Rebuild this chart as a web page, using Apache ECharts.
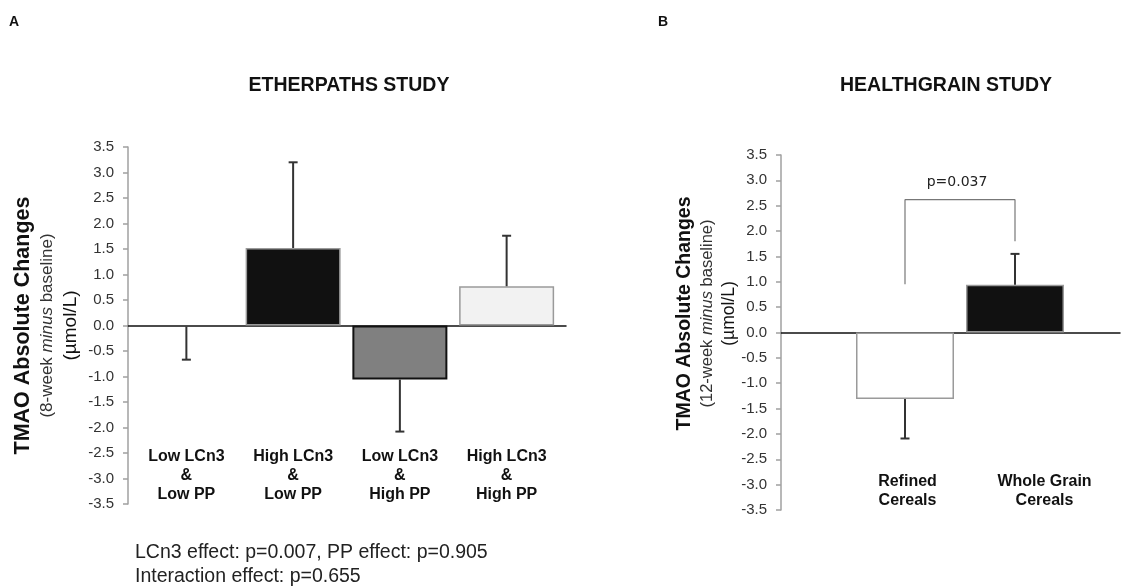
<!DOCTYPE html>
<html>
<head>
<meta charset="utf-8">
<script src="https://cdn.jsdelivr.net/npm/echarts@6/dist/echarts.min.js"></script>
<style>
  html, body { margin: 0; padding: 0; background: #fff; }
  #main { width: 1125px; height: 588px; }
</style>
</head>
<body>
<div id="main"></div>
<script>
  // panel A - ETHERPATHS
  var catsA = ['Low LCn3\n&\nLow PP', 'High LCn3\n&\nLow PP', 'Low LCn3\n&\nHigh PP', 'High LCn3\n&\nHigh PP'];
  var meanA = [-0.02, 1.52, -1.06, 0.77];
  var errA = [0.65, 1.68, 1.02, 0.99];

  // panel B - HEALTHGRAIN
  var catsB = ['Refined\nCereals', 'Whole Grain\nCereals'];
  var meanB = [-1.31, 0.94];
  var errB = [0.78, 0.61];
  var bracketB = [0.95, 2.62, 1.80]; // left foot, top, right foot
  var pText = 'p=0.037';

  var yMin = -3.5, yMax = 3.5, yStep = 0.5;

  var font = 'Arial, "Liberation Sans", sans-serif';

  var styleA = [
    {color: 'rgba(0,0,0,0)', borderWidth: 0},
    {color: '#111111', borderColor: '#9a9a9a', borderWidth: 1.5},
    {color: '#808080', borderColor: '#111111', borderWidth: 2},
    {color: '#f2f2f2', borderColor: '#9a9a9a', borderWidth: 1.5}
  ];
  var styleB = [
    {color: '#ffffff', borderColor: '#9a9a9a', borderWidth: 1.5},
    {color: '#111111', borderColor: '#9a9a9a', borderWidth: 1.5}
  ];

  function errData(means, errs) {
    return means.map(function (m, i) {
      return [i, m, m + (m < 0 ? -errs[i] : errs[i])];
    });
  }

  function errItem(params, api) {
    var p0 = api.coord([api.value(0), api.value(1)]);
    var p1 = api.coord([api.value(0), api.value(2)]);
    var cap = 4.5;
    return {
      type: 'group',
      children: [
        {type: 'line', shape: {x1: p0[0], y1: p0[1], x2: p1[0], y2: p1[1]}, style: {stroke: '#333', lineWidth: 2}},
        {type: 'line', shape: {x1: p1[0] - cap, y1: p1[1], x2: p1[0] + cap, y2: p1[1]}, style: {stroke: '#333', lineWidth: 2}}
      ]
    };
  }

  // sz: [bold, sub, unit] font sizes
  function visibleY(gridIndex, gap, weekText, pad, sz, lh) {
    return {
      gridIndex: gridIndex, type: 'value', min: yMin, max: yMax, interval: yStep,
      axisLine: {show: true, lineStyle: {color: '#a0a0a0', width: 1.5}},
      axisTick: {show: true, length: 5, lineStyle: {color: '#a0a0a0', width: 1.5}},
      axisLabel: {color: '#333', fontSize: 15, fontFamily: font, margin: 14,
        formatter: function (v) { return v.toFixed(1); }},
      splitLine: {show: false},
      name: '{a|TMAO Absolute Changes}\n{b|(' + weekText + ' }{i|minus}{b| baseline)}\n{c|(µmol/L)}',
      nameLocation: 'middle', nameRotate: 90, nameGap: gap, nameMoveOverlap: false,
      nameTextStyle: {
        fontFamily: font, color: '#111', lineHeight: lh, padding: pad,
        rich: {
          a: {fontSize: sz[0], fontWeight: 'bold', fontFamily: font, color: '#111', lineHeight: lh},
          b: {fontSize: sz[1], fontFamily: font, color: '#333', lineHeight: lh},
          i: {fontSize: sz[1], fontStyle: 'italic', fontFamily: font, color: '#333', lineHeight: lh},
          c: {fontSize: sz[2], fontFamily: font, color: '#111', lineHeight: lh}
        }
      }
    };
  }

  function hiddenY(gridIndex) {
    return {gridIndex: gridIndex, type: 'value', min: yMin, max: yMax, interval: yStep, show: false};
  }

  var zeroX = function (gridIndex) {
    return {
      gridIndex: gridIndex, type: 'value', min: 0, max: 1,
      axisLine: {show: true, onZero: true, lineStyle: {color: '#111', width: 1.5}},
      axisTick: {show: false}, axisLabel: {show: false}, splitLine: {show: false}
    };
  };

  var catX = function (gridIndex, cats, showLabels) {
    return {
      gridIndex: gridIndex, type: 'category', data: cats, position: 'bottom',
      axisLine: {show: false, onZero: false}, axisTick: {show: false},
      axisLabel: {show: showLabels, inside: true, margin: 0, interval: 0,
        color: '#111', fontSize: 16, fontWeight: 'bold', fontFamily: font, lineHeight: 19},
      splitLine: {show: false}
    };
  };

  var option = {
    animation: false,
    backgroundColor: '#fff',
    grid: [
      {left: 128, top: 147, width: 438, height: 357},   // 0 A axis + zero line
      {left: 133, top: 147, width: 427, height: 357},   // 1 A bars
      {left: 781, top: 155, width: 339, height: 355},   // 2 B axis + zero line
      {left: 850, top: 155, width: 220, height: 355},   // 3 B bars
      {left: 839, top: 155, width: 274, height: 355}    // 4 B labels
    ],
    xAxis: [
      zeroX(0),
      catX(1, catsA, true),
      zeroX(2),
      catX(3, catsB, false),
      catX(4, catsB, true)
    ],
    yAxis: [
      visibleY(0, 45, '8-week', [0, 0, 0, 0], [21.5, 17, 19], 24),
      hiddenY(1),
      visibleY(2, 41, '12-week', [0, 0, 0, 38], [19.5, 16.5, 17.5], 22),
      hiddenY(3),
      hiddenY(4)
    ],
    series: [
      {
        type: 'bar', xAxisIndex: 1, yAxisIndex: 1, barWidth: 95,
        data: meanA.map(function (v, i) { return {value: v, itemStyle: styleA[i]}; })
      },
      {
        type: 'custom', xAxisIndex: 1, yAxisIndex: 1, z: 5,
        renderItem: errItem, encode: {x: 0, y: [1, 2]},
        data: errData(meanA, errA)
      },
      {
        type: 'bar', xAxisIndex: 3, yAxisIndex: 3, barWidth: 98,
        data: meanB.map(function (v, i) { return {value: v, itemStyle: styleB[i]}; })
      },
      {
        type: 'custom', xAxisIndex: 3, yAxisIndex: 3, z: 5,
        renderItem: errItem, encode: {x: 0, y: [1, 2]},
        data: errData(meanB, errB)
      },
      {
        type: 'line', xAxisIndex: 3, yAxisIndex: 3, symbol: 'none', silent: true,
        lineStyle: {color: '#777', width: 1.2},
        data: [[0, bracketB[0]], [0, bracketB[1]], [1, bracketB[1]], [1, bracketB[2]]]
      }
    ],
    graphic: [
      {type: 'text', x: 14, y: 22, style: {text: 'A', fontFamily: font, fontSize: 14, fontWeight: 'bold', fill: '#111', textAlign: 'center', textVerticalAlign: 'middle'}},
      {type: 'text', x: 663, y: 22, style: {text: 'B', fontFamily: font, fontSize: 14, fontWeight: 'bold', fill: '#111', textAlign: 'center', textVerticalAlign: 'middle'}},
      {type: 'text', x: 349, y: 86, style: {text: 'ETHERPATHS STUDY', fontFamily: font, fontSize: 19.5, fontWeight: 'bold', fill: '#111', textAlign: 'center', textVerticalAlign: 'middle'}},
      {type: 'text', x: 946, y: 86, style: {text: 'HEALTHGRAIN STUDY', fontFamily: font, fontSize: 19.5, fontWeight: 'bold', fill: '#111', textAlign: 'center', textVerticalAlign: 'middle'}},
      {type: 'text', x: 957, y: 182, style: {text: pText, fontFamily: '"DejaVu Sans", sans-serif', fontSize: 14, fill: '#222', textAlign: 'center', textVerticalAlign: 'middle'}},
      {type: 'text', x: 135, y: 553, style: {text: 'LCn3 effect: p=0.007, PP effect: p=0.905', fontFamily: font, fontSize: 19.5, fill: '#222', textAlign: 'left', textVerticalAlign: 'middle'}},
      {type: 'text', x: 135, y: 577, style: {text: 'Interaction effect: p=0.655', fontFamily: font, fontSize: 19.5, fill: '#222', textAlign: 'left', textVerticalAlign: 'middle'}}
    ]
  };

  var chart = echarts.init(document.getElementById('main'));
  chart.setOption(option);
</script>
</body>
</html>
